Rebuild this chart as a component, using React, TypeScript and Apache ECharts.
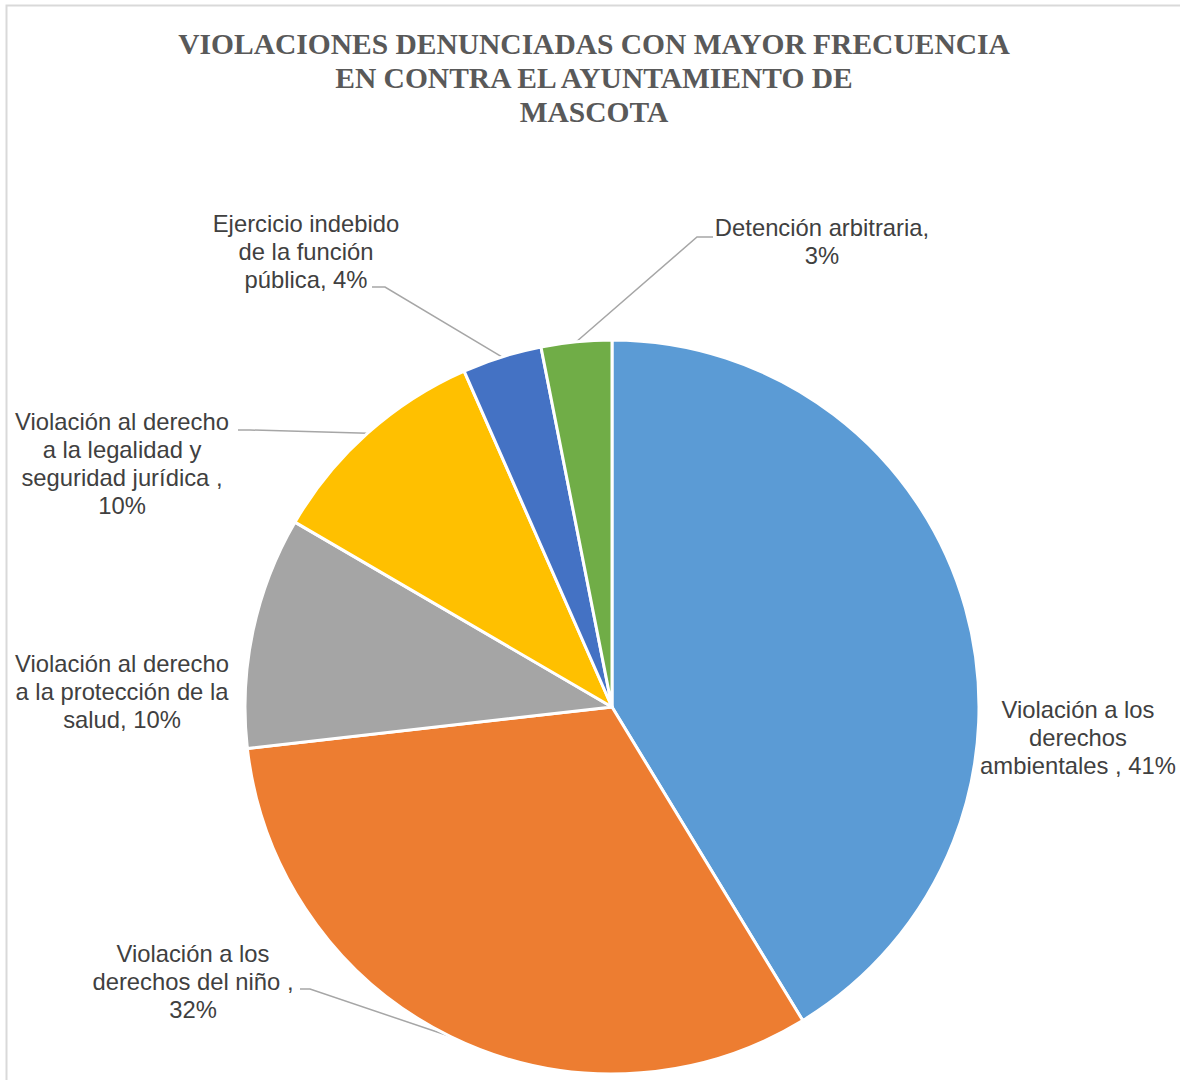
import React, { useEffect, useRef } from "react";
import * as echarts from "echarts";

const titleText = "VIOLACIONES DENUNCIADAS CON MAYOR FRECUENCIA\nEN CONTRA EL AYUNTAMIENTO DE\nMASCOTA";

const categories = [
  "Violación a los derechos ambientales ",
  "Violación a los derechos del niño ",
  "Violación al derecho a la protección de la salud",
  "Violación al derecho a la legalidad y seguridad jurídica ",
  "Ejercicio indebido de la función pública",
  "Detención arbitraria",
];
const values = [41.3, 31.9, 10.2, 10.0, 3.5, 3.1];
const colors = ["#5B9BD5", "#ED7D31", "#A5A5A5", "#FFC000", "#4472C4", "#70AD47"];
const labelTemplates = [
  "Violación a los\nderechos\nambientales , {p}",
  "Violación a los\nderechos del niño ,\n{p}",
  "Violación al derecho\na la protección de la\nsalud, {p}",
  "Violación al derecho\na la legalidad y\nseguridad jurídica ,\n{p}",
  "Ejercicio indebido\nde la función\npública, {p}",
  "Detención arbitraria,\n{p}",
];
const showLeader = [false, true, false, true, true, true];

// layout (label placement, pixels)
const labelCenters: number[][] = [
  [1078, 737],
  [193, 981],
  [122, 691],
  [122, 463],
  [306, 251],
  [822, 241],
];
// [turnX, endX, y]
const leaderEnds: (number[] | null)[] = [
  null,
  [310, 300, 989],
  null,
  [250, 238, 430],
  [385, 372, 287],
  [697, 713, 237],
];

export default function App() {
  const ref = useRef<HTMLDivElement>(null);
  useEffect(() => {
    document.body.style.margin = "0";
    document.body.style.overflow = "hidden";
    const chart = echarts.init(ref.current!, null, { renderer: "svg" });
    chart.setOption({
      animation: false,
      backgroundColor: "#ffffff",
      graphic: [
        {
          type: "rect",
          shape: { x: 6.5, y: 5.5, width: 1300, height: 1200 },
          style: { fill: "none", stroke: "#D9D9D9", lineWidth: 2 },
          silent: true,
        },
        {
          type: "text",
          x: 594,
          y: 27,
          style: {
            text: titleText,
            fill: "#595959",
            font: "bold 29.5px 'Liberation Serif'",
            align: "center",
            verticalAlign: "top",
            lineHeight: 34,
          },
        },
      ],
      series: [
        {
          type: "pie",
          center: [612, 707],
          radius: 367,
          startAngle: 90,
          clockwise: true,
          avoidLabelOverlap: false,
          itemStyle: { borderColor: "#ffffff", borderWidth: 3 },
          label: {
            show: true,
            position: "outside",
            color: "#404040",
            fontFamily: "'Liberation Sans', Arial",
            fontSize: 23.8,
            lineHeight: 28,
            align: "center",
            formatter: (p: any) =>
              labelTemplates[p.dataIndex].replace("{p}", Math.round(p.percent) + "%"),
          },
          labelLine: {
            show: true,
            lineStyle: { color: "#A6A6A6", width: 1.5 },
          },
          labelLayout: (p: any) => {
            const i = p.dataIndex;
            const c = labelCenters[i];
            const res: any = { x: c[0], y: c[1], align: "center", verticalAlign: "middle" };
            const le = leaderEnds[i];
            if (le && p.labelLinePoints) {
              res.labelLinePoints = [p.labelLinePoints[0], [le[0], le[2]], [le[1], le[2]]];
            }
            return res;
          },
          data: categories.map((name, i) => ({
            name,
            value: values[i],
            itemStyle: { color: colors[i] },
            labelLine: { show: showLeader[i] },
          })),
        },
      ],
    });
    return () => chart.dispose();
  }, []);
  return <div ref={ref} style={{ width: 1180, height: 1080 }} />;
}
